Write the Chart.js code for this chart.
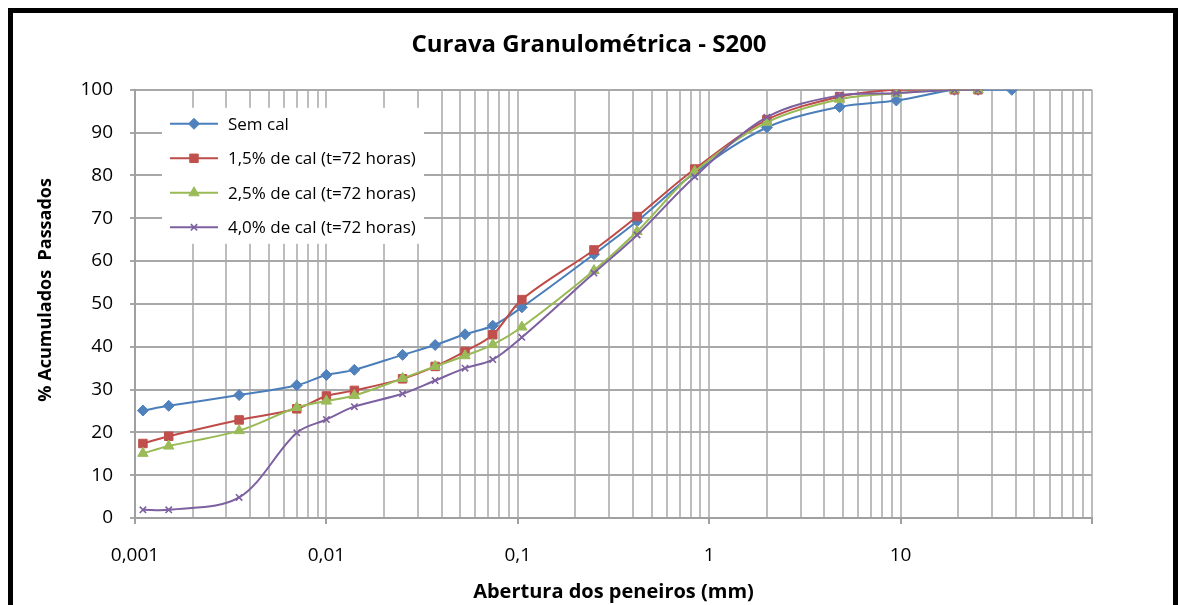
<!DOCTYPE html>
<html>
<head>
<meta charset="utf-8">
<script src="https://cdn.jsdelivr.net/npm/chart.js"></script>
<style>
html, body { margin: 0; padding: 0; background: #fff; overflow: hidden; }
#frame { position: absolute; left: 8px; top: 8px; width: 1170px; height: 620px; border: 5px solid #000; box-sizing: border-box; }
#wrap { position: absolute; left: 0; top: 0; width: 1178px; height: 605px; }
</style>
</head>
<body>
<div id="frame"></div>
<div id="wrap"><canvas id="chart" width="1178" height="605"></canvas></div>
<script>
// abertura das peneiras (mm)
const aberturas = [0.0011, 0.0015, 0.0035, 0.007, 0.01, 0.014, 0.025, 0.037, 0.053, 0.074, 0.105, 0.25, 0.42, 0.84, 2.0, 4.8, 9.5, 19.1, 25.4, 38.1];

// % acumulados passados
const semCal = [25.1, 26.2, 28.7, 31.0, 33.4, 34.6, 38.1, 40.4, 42.9, 44.9, 49.2, 61.6, 69.3, 80.6, 91.2, 96.0, 97.5, 100, 100, 100];
const cal15 = [17.4, 19.1, 22.9, 25.5, 28.5, 29.8, 32.5, 35.4, 38.9, 42.8, 51.0, 62.6, 70.4, 81.5, 93.0, 98.4, 100, 100, 100];
const cal25 = [15.1, 16.8, 20.4, 25.8, 27.3, 28.6, 32.6, 35.4, 37.9, 40.5, 44.6, 57.8, 66.9, 80.9, 92.4, 97.8, 99.2, 100, 100];
const cal40 = [1.9, 1.9, 4.8, 19.9, 23.0, 26.0, 29.0, 32.1, 35.0, 37.0, 42.2, 57.2, 66.1, 79.7, 93.6, 98.7, 99.2, 100, 100];

const seriesNames = ['Sem cal', '1,5% de cal (t=72 horas)', '2,5% de cal (t=72 horas)', '4,0% de cal (t=72 horas)'];
const xTickLabels = ['0,001', '0,01', '0,1', '1', '10'];

const FONT = '"Open Sans"';

function pontos(valores) {
    return valores.map((v, i) => ({ x: aberturas[i], y: v }));
}

function serie(i, valores, linha, marcador, estilo, raio) {
    return {
        label: seriesNames[i],
        data: pontos(valores),
        showLine: true,
        borderColor: linha,
        borderWidth: 2,
        tension: 0.33,
        pointStyle: estilo,
        pointRadius: raio,
        pointBackgroundColor: marcador,
        pointBorderColor: estilo === 'crossRot' ? linha : marcador,
        pointBorderWidth: estilo === 'crossRot' ? 1.6 : 1,
        order: 3 - i
    };
}

// ticks do eixo log: 1..9 em cada década
const logTicks = [];
for (let e = -3; e <= 1; e++) {
    for (let m = 1; m <= 9; m++) logTicks.push(Number((m * Math.pow(10, e)).toPrecision(10)));
}
logTicks.push(100);

function expoente(v) {
    const e = Math.log10(v);
    return Math.abs(e - Math.round(e)) < 1e-6 ? Math.round(e) : null;
}

// legenda dentro do gráfico, sobre fundo branco
const legendaCaixa = {
    id: 'legendaCaixa',
    afterDatasetsDraw(chart) {
        const ctx = chart.ctx;
        const a = chart.chartArea;
        const x0 = a.left + 27, y0 = a.top + 18;
        ctx.save();
        ctx.fillStyle = '#fff';
        ctx.fillRect(x0, y0, 262, 136);
        chart.data.datasets.forEach((ds, i) => {
            const y = y0 + 16 + i * 34.5;
            ctx.strokeStyle = ds.borderColor;
            ctx.lineWidth = 2;
            ctx.beginPath();
            ctx.moveTo(x0 + 8, y);
            ctx.lineTo(x0 + 56, y);
            ctx.stroke();
            ctx.fillStyle = ds.pointBackgroundColor;
            ctx.strokeStyle = ds.pointBorderColor;
            ctx.lineWidth = ds.pointBorderWidth;
            Chart.helpers.drawPoint(ctx, { pointStyle: ds.pointStyle, radius: ds.pointRadius, rotation: 0, borderWidth: ds.pointBorderWidth }, x0 + 32, y);
            ctx.fillStyle = '#000';
            ctx.font = '17px ' + FONT;
            ctx.textBaseline = 'middle';
            ctx.fillText(ds.label, x0 + 66, y + 1);
        });
        ctx.restore();
    }
};

new Chart(document.getElementById('chart'), {
    type: 'scatter',
    data: {
        datasets: [
            serie(0, semCal, '#4A7EBB', '#4F81BD', 'rectRot', 5.5),
            serie(1, cal15, '#BE4B48', '#C0504D', 'rect', 6),
            serie(2, cal25, '#98B954', '#9BBB59', 'triangle', 6),
            serie(3, cal40, '#7D60A0', '#8064A2', 'crossRot', 4.5)
        ]
    },
    options: {
        responsive: false,
        animation: false,
        layout: { padding: 0 },
        plugins: {
            legend: { display: false },
            tooltip: { enabled: false },
            title: {
                display: true,
                text: 'Curava Granulométrica - S200',
                color: '#000',
                font: { family: FONT, size: 24, weight: 'bold' },
                padding: { top: 31, bottom: 30 }
            }
        },
        scales: {
            x: {
                type: 'logarithmic',
                min: 0.001,
                max: 100,
                afterBuildTicks(scale) {
                    scale.ticks = logTicks.map(v => ({ value: v, major: expoente(v) !== null }));
                },
                afterFit(scale) { scale.height = 87; },
                grid: {
                    color: '#bdbdbd',
                    lineWidth: 2,
                    tickLength: 6,
                    tickColor: c => (c.tick && expoente(c.tick.value) !== null) ? '#a0a0a0' : 'rgba(0,0,0,0)'
                },
                border: { color: '#a0a0a0', width: 2 },
                ticks: {
                    autoSkip: false,
                    maxRotation: 0,
                    padding: 20,
                    color: '#000',
                    font: { family: FONT, size: 19 },
                    callback(v) {
                        const e = expoente(v);
                        return e === null ? '' : (xTickLabels[e + 3] || '');
                    }
                },
                title: {
                    display: true,
                    text: 'Abertura dos peneiros (mm)',
                    color: '#000',
                    font: { family: FONT, size: 20, weight: 'bold' },
                    padding: { top: 0, bottom: 1 }
                }
            },
            y: {
                min: 0,
                max: 100,
                afterFit(scale) { scale.width = 135; },
                grid: { color: '#a8a8a8', lineWidth: 2, tickLength: 5 },
                border: { color: '#a0a0a0', width: 2 },
                ticks: {
                    stepSize: 10,
                    padding: 17,
                    color: '#000',
                    font: { family: FONT, size: 19 }
                },
                title: {
                    display: true,
                    // espaços à esquerda sobem o texto, como no original
                    text: '\u00a0\u00a0\u00a0\u00a0\u00a0\u00a0% Acumulados  Passados',
                    color: '#000',
                    font: { family: FONT, size: 18, weight: 'bold' },
                    padding: { top: 35, bottom: 0 }
                }
            },
            // eixo vazio à direita: só reserva a margem, para o título ficar centrado na figura
            margem: {
                type: 'linear',
                position: 'right',
                afterFit(scale) { scale.width = 86; },
                grid: { display: false, drawTicks: false },
                ticks: { display: false },
                border: { display: false }
            }
        }
    },
    plugins: [legendaCaixa]
});
</script>
</body>
</html>
